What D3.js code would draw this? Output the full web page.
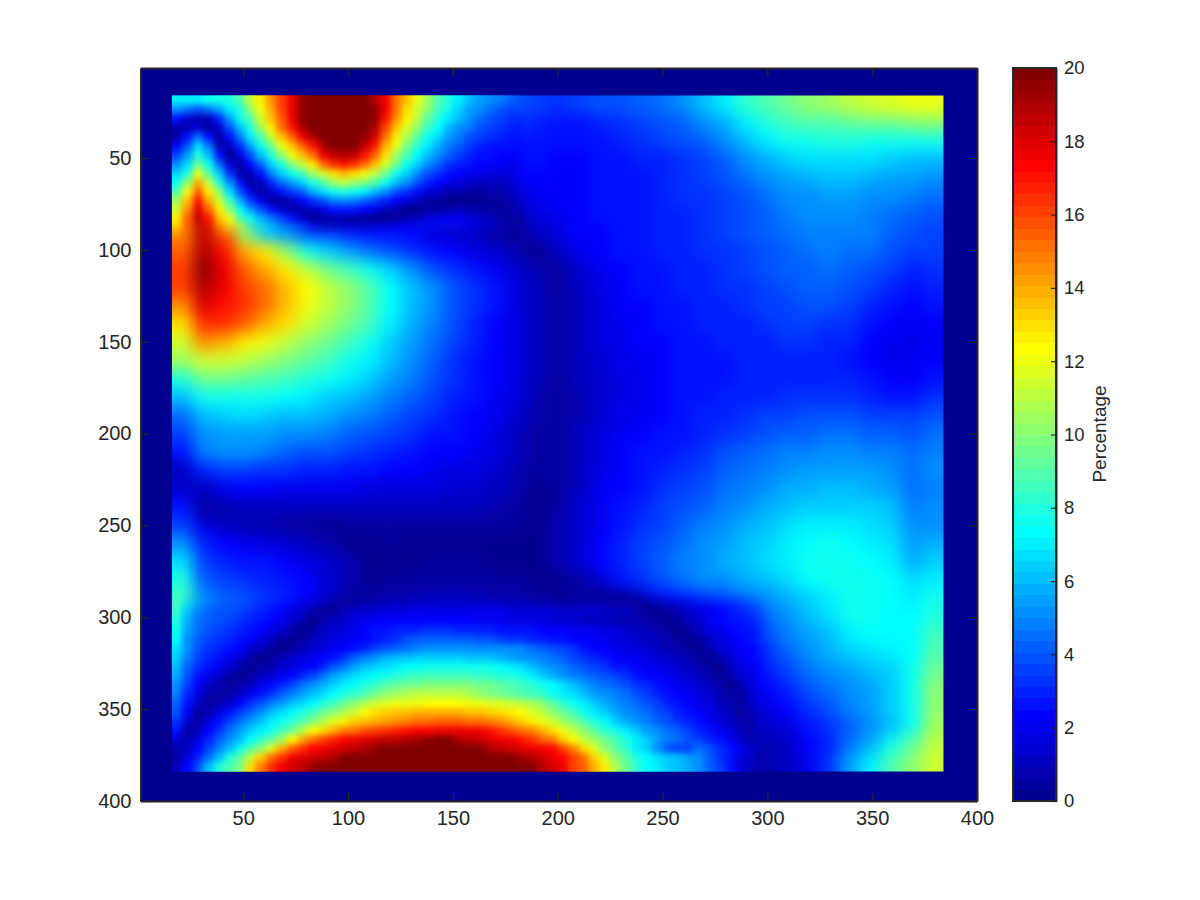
<!DOCTYPE html>
<html>
<head>
<meta charset="utf-8">
<style>
html,body{margin:0;padding:0;background:#fff;}
svg{display:block;}
text{font-family:"Liberation Sans",Arial,sans-serif;fill:#262626;}
</style>
<script src="https://cdn.jsdelivr.net/npm/d3@7"></script>
</head>
<body>
<svg id="chart" width="1200" height="900"></svg>
<script>
const axisDomain = [1, 400];
const imageExtent = [16, 384];
const colorDomain = [0, 20];
const axisTicks = [50, 100, 150, 200, 250, 300, 350, 400];
const colorTicks = [0, 2, 4, 6, 8, 10, 12, 14, 16, 18, 20];
const colorLabel = "Percentage";
const jetIndex = [1, 8, 24, 40, 56, 64];
const jetStops = ["rgb(0,0,143)", "rgb(0,0,255)", "rgb(0,255,255)", "rgb(255,255,0)", "rgb(255,0,0)", "rgb(128,0,0)"];
const percentage = [
[4.5,5.5,7.5,11,14,17,19.5,20,20,20,18,13,10,7.5,6,5,4,3.5,3.2,3.5,3.8,4,4.2,4.5,5,6,7,8.3,9,9.5,10,10.5,11,11.3,11.8,12,12],
[1.5,0.5,4.5,8,11.5,15,18.5,20,20,20,18,13,9.5,6.5,5,4,3.5,3,2.8,2.8,3,3.3,3.6,4,4.3,5,5.8,7,8,8.5,9,9,9.2,9.4,9.6,9.8,10],
[3,4,0.5,4.5,8,11.5,14,17,19,18,14.5,10.5,7.5,5.5,4.5,3.5,3,2.8,2.6,2.6,2.7,2.9,3.2,3.5,3.8,4.2,5,6,7,7.5,7.8,8,8,7.8,7.8,7.8,7.8],
[5,7,1.5,2,5,8,10.5,12,12.5,12,10.5,8,6,4.5,3.7,3,2.7,2.5,2.4,2.4,2.5,2.7,2.9,3.1,3.4,3.7,4.2,5,5.8,6.3,6.6,6.8,6.8,6.6,6.4,6.2,6],
[9,9,4.5,0.7,2.5,5,7,8,8.5,8,7,5.5,4.3,3.5,3,2.5,2.2,2.2,2.3,2.4,2.5,2.6,2.8,3,3.2,3.5,3.9,4.4,5,5.5,5.8,6,6,5.8,5.6,5.4,5],
[11.5,14.5,8,3,0.5,2,3.2,4.3,5,4.8,4.2,3.3,2.7,2.2,2,1.8,1.8,2,2.2,2.3,2.5,2.6,2.8,3,3.2,3.4,3.7,4,4.5,5,5.3,5.5,5.5,5.3,5,4.8,4.5],
[13,16,12,5.5,2.5,0.8,0.6,0.6,0.8,0.8,0.8,0.6,0.5,0.5,0.4,0.3,1,1.8,2.1,2.3,2.5,2.7,2.8,3,3.1,3.3,3.5,3.9,4.3,4.7,5,5.1,5.1,4.9,4.6,4.2,4],
[14.5,18.5,15.5,10,6.5,5,4,3.5,3,2.8,2.6,2.4,1.8,1.3,1,0.6,0.2,1.1,1.8,2.2,2.4,2.6,2.8,2.9,3.1,3.2,3.5,3.8,4.1,4.5,4.8,4.9,4.9,4.7,4.3,3.9,3.7],
[15.5,19,17,14,12.5,10,7.5,6.5,5.5,4.5,3.8,3.2,2.7,2.2,1.8,1.4,0.9,0.3,1.2,1.9,2.2,2.5,2.7,2.9,3,3.2,3.4,3.7,4,4.3,4.6,4.7,4.6,4.4,4,3.6,3.5],
[16,19.5,17.5,15.5,14,12.5,11,9.5,8.7,7.8,6.5,5.2,4,3.2,2.6,2.1,1.5,0.7,0.5,1.5,2,2.4,2.6,2.8,3,3.1,3.3,3.5,3.8,4.1,4.3,4.4,4.3,4,3.5,3,3.2],
[16,19,17.5,16,15,13.5,12.3,11,10,9,7.3,6,5,4,3.2,2.5,1.8,1,0.4,1.2,1.8,2.3,2.5,2.7,2.9,3,3.2,3.4,3.6,3.9,4.1,4.1,3.9,3.5,3,2.7,3],
[14.5,18,17,16.5,15,13.5,12,11,10,9,7.3,6,5,4,3.2,2.5,1.8,1,0.5,1.2,1.7,2.2,2.4,2.6,2.8,3,3.1,3.3,3.5,3.7,3.8,3.8,3.5,3,2.5,2.3,2.5],
[13,16.5,16.5,15.5,14,13,11.5,10.5,9.5,8.5,7,5.8,4.8,3.8,3,2.4,1.8,1,0.5,1.2,1.7,2.1,2.3,2.5,2.7,2.9,3,3.1,3.3,3.5,3.5,3.4,3.2,2.7,2.2,2,2.2],
[11.5,14.5,13.8,12.8,12,11,10.3,9.5,8.7,7.7,6.5,5.4,4.5,3.6,2.9,2.3,1.7,1,0.5,1.1,1.6,2,2.2,2.4,2.6,2.8,2.9,3,3.1,3.2,3.2,3.1,2.9,2.4,2,1.9,2.1],
[10.5,11.5,11.5,11,10.5,9.8,9.2,8.6,7.8,7,6,5,4.2,3.4,2.8,2.2,1.6,1,0.5,1,1.5,1.9,2.1,2.3,2.5,2.7,2.8,2.9,3,3,3,2.9,2.7,2.3,2,1.9,2.3],
[8,9.5,9.5,9.3,9,8.5,8,7.5,7,6.3,5.5,4.7,4,3.2,2.7,2.2,1.6,1,0.4,1,1.5,1.8,2,2.3,2.5,2.6,2.8,2.9,2.9,3,3,3,2.9,2.5,2.2,2.1,2.7],
[6,7.5,7.8,7.8,7.5,7.3,7,6.5,6,5.5,4.9,4.2,3.6,3,2.6,2.1,1.6,0.9,0.4,0.9,1.5,1.8,2,2.3,2.5,2.7,2.9,3,3.1,3.2,3.3,3.4,3.3,3,2.8,2.8,3.4],
[4.5,6,6.5,6.6,6.5,6.2,6,5.7,5.2,4.7,4.2,3.7,3.2,2.8,2.4,2,1.4,0.7,0.4,0.9,1.5,1.9,2.1,2.4,2.6,2.9,3.1,3.3,3.5,3.6,3.8,3.9,3.9,3.7,3.6,3.5,4],
[3.5,5,5.5,5.6,5.5,5.3,5,4.7,4.3,4,3.6,3.2,2.8,2.5,2.2,1.8,1.2,0.6,0.4,1,1.6,2,2.3,2.6,2.8,3.1,3.4,3.7,3.9,4.2,4.3,4.4,4.4,4.3,4.2,4,4.5],
[2.5,4.8,5,5,4.7,4.3,4,3.8,3.5,3.2,3,2.7,2.4,2.2,1.9,1.6,1,0.5,0.4,1,1.7,2.2,2.5,2.8,3.1,3.4,3.8,4.1,4.4,4.7,4.9,5,5,4.9,4.8,4.4,4.8],
[1,3,3.5,3.5,3.3,3.2,3,2.9,2.7,2.5,2.4,2.2,2,1.8,1.6,1.3,0.9,0.4,0.4,1.1,1.8,2.3,2.7,3,3.3,3.7,4.1,4.5,4.9,5.2,5.4,5.6,5.6,5.4,5.2,4.6,5],
[1.5,1,2,2.3,2.2,2.1,2,2,1.9,1.8,1.8,1.7,1.6,1.5,1.3,1.1,0.7,0.3,0.5,1.2,1.9,2.4,2.8,3.2,3.6,4,4.4,4.9,5.3,5.7,5.9,6,6,5.9,5.6,4.6,4.9],
[2.5,0.4,0.8,1,1.1,1.1,1.2,1.2,1.2,1.1,1.1,1.1,1.1,1.1,1,0.8,0.5,0.2,0.6,1.3,2,2.5,3,3.5,3.9,4.3,4.8,5.3,5.7,6.1,6.4,6.5,6.5,6.4,6,4.8,5],
[3.5,1.7,1.2,0.9,0.7,0.5,0.4,0.3,0.4,0.5,0.5,0.6,0.6,0.6,0.6,0.5,0.4,0.2,0.7,1.4,2,2.7,3.2,3.7,4.2,4.7,5.2,5.7,6.2,6.6,6.9,7,7,6.8,6.3,5,5.3],
[5,3,2.3,2,1.8,1.3,1,0.7,0.3,0.3,0.4,0.3,0.3,0.3,0.3,0.3,0.2,0.2,0.8,1.5,2.2,2.9,3.5,4,4.5,5,5.5,6,6.5,6.9,7.3,7.5,7.4,7.1,6.6,5.4,5.8],
[6.8,3.7,3,2.7,2.5,2.2,1.8,1.3,0.8,0.2,0.3,0.3,0.4,0.4,0.4,0.3,0.3,0.3,0.7,1.4,2.2,3,3.6,4.2,4.7,5.2,5.7,6.2,6.7,7.1,7.5,7.7,7.7,7.4,6.9,5.9,6.3],
[8,4.3,3.5,3.2,3,2.7,2.3,1.5,0.8,0.3,0.4,0.5,0.6,0.6,0.6,0.5,0.4,0.3,0.3,0.5,1.3,2.5,3.3,4,4.5,5,5.3,5.8,6.2,6.8,7.3,7.6,7.8,7.6,7.2,6.6,7],
[8.5,5,4.2,3.8,3.4,3,2.3,1.3,0.5,0.4,0.7,0.9,1,1.1,1,0.9,0.7,0.6,0.4,0.4,0.3,0.2,1.2,2.5,3,3.5,4,4.4,5,5.8,6.4,7,7.8,7.6,7.3,7,7.6],
[8,5,4,3.5,2.8,2.1,0.8,0.3,0.6,1,1.3,1.5,1.7,1.8,1.8,1.7,1.5,1.3,1.1,1.1,1,0.9,0.6,0.2,1.3,2.4,3.2,3.7,4.4,5.2,6,6.7,7.6,7.5,7.3,7.2,8],
[7.5,4.8,3.9,3.1,2.2,1,0.3,0.7,1.2,1.8,2.3,2.7,3,3.2,3.2,3,2.8,2.4,2.1,2.1,2,1.9,1.6,1.1,0.4,0.8,2.4,3.1,3.9,4.7,5.5,6.2,7.1,7.2,7.2,7.4,8.5],
[7,4.5,3.4,2.5,1.1,0.3,1,1.8,2.6,3.3,3.9,4.4,4.8,5,5,4.7,4.4,3.9,3.4,3.2,3,2.7,2.5,2.1,1.4,0.5,1.8,2.7,3.3,4.2,5,5.7,6.4,6.7,6.9,7.4,9],
[6.3,4,2.8,1,0.3,1,2.2,3.3,4.3,5.3,6.1,6.7,7.2,7.6,7.7,7.4,7,6.4,5.8,4.9,4.4,4,3.6,3.1,2.4,1.3,1,2.2,2.9,3.6,4.4,5.2,5.6,6,6.5,7.5,9.5],
[5,2.7,1,0.3,1.3,2.6,4,5.5,6.8,7.8,8.8,9.5,10.2,10.4,10.5,10.2,9.7,8.8,8.2,7.5,6.5,5.6,5,4.3,3.3,2.3,0.6,1.6,2.4,3,3.8,4.6,5,5.6,6.5,7.8,10],
[3.3,1,0.4,1.8,3.5,5,6.6,8,9.5,10.8,12,12.6,13,13.3,13.3,13,12.5,11.5,10.5,9.3,8,6.8,5.8,5,4.2,3,0.6,1,1.8,2.4,3.2,4,4.7,5.5,6.3,7.8,10],
[0.8,3,5,6.8,8.5,10.8,12.5,14,15,16,17,17.5,17.8,18,18,17.8,17.3,16.5,14,11.5,9.5,7.8,6.3,5.5,4.7,3.8,1.2,0.7,1.3,1.7,2.6,3.4,4.3,5.2,6,7.5,10.5],
[0.4,3.5,6.7,9.5,12.5,15.5,17.5,19,19.5,20,20,20,20,20,20,20,20,19.3,17.5,13.5,11,8.8,6.8,5.2,4.8,4.5,2,1,0.9,1.2,2.2,3.1,4.5,5.8,7.5,9.3,11],
[2.5,5.5,8.5,12.5,15,17.5,19,20,20,20,20,20,20,20,20,20,20,20,19,15.5,13,10,8,6.8,5.8,5,3,1.5,0.8,1,2,3.4,5.5,7,8.8,10.3,11.5]
];
// finer readings (half cell size) of the two areas with the sharpest features
const cornerSpan = {cols: 17.5, rows: 8};
const percentageTop = [
[7,7,7,7.5,7.5,8,9,11,12.5,14.5,16,17.5,19.5,20,20,20,20,20,20,19,17.5,15,13.5,12,10.5,9,8,7,6.2,5.5,5,4.7,4.3,4,3.8],
[5,4.5,3.8,4.5,5.5,7,8,10,12,14,16,17.5,19.5,20,20,20,20,20,20,19.5,17.5,15,13,11.5,10,8.5,7.5,6.5,5.5,5,4.5,4,3.7,3.5,3.3],
[2.5,1.5,0.8,1.2,3,5.5,7.5,9,11.5,13.5,15.5,17.5,19.5,20,20,20,20,20,20,19.5,17,14.5,12.7,11,9.3,8,7,6,5,4.5,4,3.6,3.3,3,2.9],
[0.8,0.7,1.5,0.4,1.5,4,6,8,10.5,12.5,15,17,19,20,20,20,20,20,20,19,16,13.5,11.7,10,8.5,7.3,6.2,5.3,4.7,4,3.5,3.2,3,2.8,2.7],
[0.5,2.5,4.5,2.5,0.5,2.5,4.8,7,9,11.5,13.5,15.5,17.5,19,20,20,20,20,19.5,18.3,15,12.7,10.7,9.2,7.8,6.6,5.5,4.7,4,3.5,3.2,2.9,2.7,2.6,2.5],
[2,4,6.8,4.5,0.7,1.2,3.2,5.5,7.5,9.5,12,13.5,15.5,17,19,20,20,20,18.5,17,14,12,9.8,8.3,7,5.8,4.8,4.2,3.5,3,2.8,2.6,2.5,2.4,2.4],
[3.5,5.5,8,6,2.5,0.5,1.8,4,6,8,10,12,13.5,15,17.5,18.5,19,18.5,17,15.5,13,10.5,8.8,7.4,6.2,5,4.2,3.6,3.1,2.8,2.5,2.3,2.2,2.2,2.2],
[5,6.7,9.5,7.5,4.5,1.5,0.4,2.3,4.3,6.3,8,9.7,11.2,12.5,15,16.5,17,16.5,15,13.5,11.3,9.5,7.8,6.3,5.2,4.2,3.4,3,2.6,2.3,2.2,2.1,2,2,2.1],
[6.5,8,12,9,6.5,3.3,0.7,0.8,2.7,4.7,6.3,7.7,8.7,10.5,11.5,13,13.5,13,12,11,9.5,7.8,6.3,5,4,3.2,2.7,2.3,2,1.9,1.7,1.6,1.8,1.9,2],
[7.5,10,14,11,8,5,2.5,0.5,1.2,3,4.5,5.5,6.3,8,9,10.5,11,10.5,9.7,9,7.5,6.2,5,3.8,3,2.4,2,1.6,1.3,1.2,1.2,1.2,1.4,1.7,1.9],
[9,12,15.5,12.5,10,6.7,4,2,0.5,1.3,2.7,3.7,4.3,5.8,6.6,7.7,8,7.6,7,6.2,5,4,3.2,2.5,1.8,1.3,0.9,0.7,0.6,0.6,0.7,0.8,1.1,1.4,1.8],
[10.5,13.5,17,14,11.5,8.5,5.7,3.7,2,0.5,0.5,1,2.3,3.4,4,4.7,5,4.7,4.2,3.7,3,2.3,1.6,1,0.6,0.4,0.2,0.3,0.2,0.3,0.4,0.6,0.8,1.2,1.5],
[11.5,14.5,18,15.5,12.5,10,7.5,5.5,4,2.6,1.5,0.7,0.7,1.2,1.8,2.6,2.7,2.5,2.2,1.8,1.2,0.7,0.3,0.2,0.4,0.6,0.9,1,0.9,0.8,0.5,0.4,0.5,0.9,1.2],
[12.5,15.5,18.5,17,13.5,12,9,7.5,6,4.8,3.5,2.8,1.5,0.6,0.5,0.8,0.7,0.6,0.4,0.3,0.3,0.5,0.9,1.2,1.6,1.9,2,2,1.8,1.5,1,0.6,0.4,0.6,1],
[13,16,19,18,14.8,13,11.5,9.2,8,6.7,5.5,4.5,3.7,2,1,0.9,1,1.1,1.2,1.4,1.6,1.9,2.2,2.5,2.6,2.7,2.7,2.5,2.3,2,1.6,1.1,0.6,0.4,0.7],
[14,17,19.5,18.5,16,14,12.5,11,9.5,8.2,7,6,5,3.4,3,2.8,2.8,2.8,2.9,3,3.1,3.2,3.2,3.2,3.1,3,2.8,2.6,2.4,2.2,2,1.5,1,0.4,0.4]
];
const bottomSpan = {cols: 29, rows: 10};
const percentageBottom = [
[8.8,6.5,5,4.6,4.3,4.2,4,3.8,3.5,3.2,2.8,2.5,2.2,1.8,1.3,0.8,0.4,0.2,0.5,0.7,0.9,1,1,1,1,1,1,1,0.9,0.9,0.8,0.8,0.7,0.7,0.6,0.6,0.5,0.5,0.4,0.5,0.6,0.7,0.7,0.5,0.3,0.4,0.7,1,1.4,1.6,1.9,2.1,2.5,3,3.4,3.8,4.2,4.7],
[8.5,6.3,5,4.5,4.2,4,3.8,3.6,3.3,3,2.6,2.2,1.8,1.4,0.8,0.3,0.4,0.8,1,1.1,1.2,1.3,1.3,1.3,1.3,1.3,1.3,1.3,1.3,1.3,1.3,1.3,1.2,1.1,1,1,0.9,0.9,0.9,1,1,1,0.9,0.7,0.5,0.3,0.4,0.8,1.1,1.5,1.8,2.1,2.4,2.8,3.1,3.5,3.9,4.3],
[8.2,6,4.8,4.3,4,3.8,3.6,3.4,3,2.7,2.3,1.8,1.3,0.7,0.3,0.6,1,1.3,1.4,1.6,1.7,1.8,1.8,1.9,1.9,1.9,1.9,1.9,1.9,1.9,1.9,1.9,1.8,1.8,1.7,1.7,1.6,1.5,1.5,1.4,1.4,1.3,1.2,1,0.9,0.6,0.3,0.5,0.9,1.3,1.7,2,2.3,2.6,2.9,3.2,3.6,4],
[7.9,5.8,4.6,4.2,3.8,3.6,3.4,3.1,2.7,2.3,1.9,1.3,0.7,0.3,0.7,1.2,1.4,1.7,2,2.1,2.2,2.3,2.4,2.4,2.4,2.4,2.4,2.3,2.2,2.1,2,1.9,1.8,1.7,1.7,1.6,1.5,1.4,1.3,1.2,1.1,1,0.9,0.8,0.7,0.6,0.5,0.3,0.6,1,1.5,1.9,2.2,2.5,2.7,3,3.3,3.7],
[7.6,5.5,4.4,4,3.6,3.3,3,2.7,2.4,1.9,1.3,0.7,0.3,0.5,1,1.4,1.7,2,2.2,2.5,2.7,2.9,3,3.1,3.2,3.2,3.2,3.1,3,3,2.9,2.8,2.7,2.6,2.5,2.4,2.3,2.2,2.1,2,1.9,1.8,1.6,1.4,1.2,1,0.8,0.6,0.3,0.5,1.1,1.6,2,2.3,2.5,2.8,3.1,3.4],
[7.2,5.3,4.2,3.7,3.4,3,2.6,2.2,1.7,1.1,0.6,0.3,0.6,1.1,1.5,1.8,2.1,2.3,2.4,2.6,3,3.4,3.8,4.1,4.2,4.3,4.3,4.2,4.1,4,3.8,3.6,3.4,3.3,3.1,3,2.8,2.6,2.4,2.3,2.2,2,1.8,1.6,1.4,1.2,1,0.7,0.5,0.3,0.6,1.2,1.7,2.1,2.3,2.6,2.9,3.2],
[6.8,5,3.9,3.4,3,2.6,2.2,1.5,1,0.5,0.3,0.5,0.9,1.3,1.7,2,2.3,2.6,3,3.5,3.9,4.3,4.6,4.9,5.1,5.3,5.3,5.3,5.2,5.2,5.2,5.1,5.1,5,4.6,4.3,4,3.6,3.2,2.7,2.4,2.2,2,1.8,1.6,1.4,1.2,0.9,0.7,0.5,0.3,0.8,1.3,1.8,2.2,2.4,2.7,3],
[6.5,4.7,3.6,3,2.6,2,1.3,0.8,0.3,0.4,0.8,1.3,1.7,2,2.3,2.5,3.4,4.2,4.8,5.3,5.7,6,6.2,6.3,6.4,6.4,6.4,6.3,6.2,6.1,6,5.9,5.6,5.3,5,4.7,4.4,4.1,3.7,3.4,3,2.6,2.3,2.1,1.9,1.7,1.5,1.3,1,0.8,0.5,0.3,0.9,1.5,2,2.3,2.6,2.9],
[6.1,4.3,3.2,2.6,2,1.3,0.7,0.3,0.5,0.9,1.3,1.7,2.1,2.4,3.1,3.8,4.6,5.4,6,6.4,6.7,7,7.2,7.3,7.5,7.6,7.6,7.6,7.6,7.6,7.6,7.4,7.1,6.7,6.2,5.6,5,4.7,4.3,3.9,3.5,3.2,2.8,2.5,2.3,2.1,1.9,1.7,1.5,1.2,0.9,0.5,0.3,1.1,1.7,2.1,2.4,2.7],
[5.7,4,2.8,2.1,1.3,0.7,0.3,0.6,1,1.5,1.9,2.3,3,3.7,4.5,5.4,6,6.6,7,7.4,7.8,8.1,8.3,8.5,8.7,8.7,8.7,8.6,8.5,8.4,8.3,8.1,7.9,7.6,7,6.5,5.9,5.2,4.8,4.5,4.2,3.9,3.6,3.2,2.8,2.4,2.2,1.9,1.6,1.3,1,0.7,0.3,0.7,1.3,1.8,2.2,2.6],
[5.2,3.5,2.3,1.5,0.7,0.3,0.7,1.2,1.8,2.3,3,3.7,4.4,5.1,5.8,6.4,7,7.4,7.9,8.4,8.8,9.2,9.4,9.6,9.8,9.9,9.9,9.8,9.7,9.6,9.4,9.3,9,8.7,8.3,7.8,7.3,6.7,6.1,5.5,4.8,4.4,4.1,3.8,3.4,3,2.6,2.3,2,1.7,1.4,1.1,0.8,0.3,0.9,1.6,2.1,2.5],
[4.8,3,1.8,0.9,0.4,0.7,1.2,2,2.6,3.3,4.1,4.9,5.6,6.2,6.8,7.4,8,8.4,9,9.5,10,10.4,10.7,11,11.1,11.2,11.2,11,10.7,10.2,9.8,9.6,9.3,9,8.7,8.3,7.8,7.1,6.6,6,5.5,5.2,4.8,4.4,4,3.7,3.1,2.7,2.2,1.9,1.6,1.3,0.9,0.5,0.6,1.3,1.9,2.4],
[4.3,2.5,1.2,0.5,0.7,1.4,2.3,3.2,4,4.7,5.4,6.2,6.8,7.4,8,8.7,9.5,10.2,10.8,11.3,11.6,11.9,12,12.1,12.2,12.3,12.3,12.2,12.1,12,11.8,11.6,11.3,11,10.7,10,9.2,8.3,7.7,7,6.4,5.8,5.2,4.8,4.4,4,3.5,3,2.7,2.2,1.9,1.6,1.2,0.7,0.4,1,1.7,2.2],
[3.8,2,0.4,0.7,1.7,2.7,3.5,4.3,5.2,6,6.7,7.4,8,8.7,9.4,10.1,10.7,11.4,12.2,12.9,13.2,13.5,13.7,13.9,14,14,14,13.8,13.7,13.5,13.3,13,12.6,12.2,11.6,11,10.3,9.4,8.6,7.8,7.1,6.5,5.9,5.1,4.7,4.4,4,3.5,3.1,2.6,2.2,1.9,1.5,1,0.5,0.7,1.5,2],
[3.2,1.4,0.5,1.7,2.7,3.6,4.5,5.4,6.2,7,7.7,8.4,9,9.8,10.8,11.8,12.7,13.2,13.6,14,14.3,14.6,14.8,15,15.3,15.5,15.5,15.4,15.3,15.1,14.9,14.4,13.8,13.2,12.7,12.1,11.3,10.6,9.8,9,8,7.2,6.5,5.9,5.2,4.8,4.3,3.9,3.4,2.9,2.5,2.1,1.7,1.2,0.7,0.5,1.3,1.8],
[2.5,0.6,1.2,2.3,3.3,4.4,5.4,6.3,7,7.7,8.5,9.5,10.8,12.2,13.1,14,14.9,15.3,15.7,16,16.3,16.7,17,17.2,17.4,17.6,17.6,17.6,17.6,17.5,17,16.4,15.8,15.3,14.7,13.9,13.1,12.1,11.2,10.1,9.3,8.4,7.6,6.9,6.3,5.6,5,4.6,4.1,3.6,3.1,2.6,2.1,1.6,1.1,0.7,1,1.5],
[1.5,0.7,1.8,3,4.1,5.2,6.2,7.2,8.2,9.2,10.5,12.2,13.9,15.3,16,16.6,17.2,17.7,18,18.2,18.5,18.7,19,19.3,19.5,19.7,19.7,19,18.6,18.4,18.1,17.8,17.5,16.9,16.3,15.6,14.7,13.2,12.3,11.1,10.6,9.6,8.8,7.9,7,6.4,5.6,4.9,4.5,4,3.5,3,2.5,2,1.5,0.9,0.8,1.4],
[0.9,1,2.4,3.7,4.8,6.2,7.6,8.8,10,11.6,14,15.5,16.4,17.3,17.8,18.1,18.3,18.6,19,19.6,20,20,20,20,20,20,20,20,20,19.7,19,18.6,18.4,18,17.8,17.6,17.2,16,14.7,12.9,11.6,10.2,9.2,8.2,7.1,6.5,5.2,3.8,3.6,3.7,4.4,4,3.3,2.6,1.9,1.3,0.8,0.7],
[0.4,1.6,3,4.6,6.2,7.9,9.3,11.2,13.3,15.1,16.5,17.7,18,18.2,18.5,19,20,20,20,20,20,20,20,20,20,20,20,20,20,20,20,20,19.8,19.2,18.8,18.3,17.8,17.3,16,15.3,13.2,11.7,10.1,9.2,7.9,7.2,6.8,6.5,6.1,5.6,5.1,4.2,3.4,2.6,1.8,1,0.6,1],
[1.1,2.3,4,6.2,7.9,8.9,9.9,13,14.8,16.3,17.6,18.2,18.7,19.4,20,20,20,20,20,20,20,20,20,20,20,20,20,20,20,20,20,20,20,20,20,19,18.3,17.7,16.2,15.4,13.9,12.6,10.8,9.5,8.3,7.4,6.9,6.5,6.2,5.7,5.1,4.3,3.5,2.6,1.8,1.1,0.5,0.8]
];

const svg = d3.select("#chart");
const x = d3.scaleLinear().domain(axisDomain).range([140.5, 977]);
const y = d3.scaleLinear().domain(axisDomain).range([68, 801]);

// jet colormap, 64 levels
const jetAt = d3.scaleLinear().domain(jetIndex).range(jetStops).interpolate(d3.interpolateRgb);
const jet = d3.range(1, 65).map(i => d3.rgb(jetAt(i)).formatHex());
const color = d3.scaleQuantize().domain(colorDomain).range(jet);

const defs = svg.append("defs");
const imgX0 = x(imageExtent[0]), imgX1 = x(imageExtent[1]);
const imgY0 = y(imageExtent[0]), imgY1 = y(imageExtent[1]);
defs.append("clipPath").attr("id", "imgClip").append("rect")
  .attr("x", imgX0).attr("y", imgY0).attr("width", imgX1 - imgX0).attr("height", imgY1 - imgY0);
function blurFilter(id, sd) {
  defs.append("filter").attr("id", id)
    .attr("filterUnits", "userSpaceOnUse")
    .attr("x", 60).attr("y", 0).attr("width", 1000).attr("height", 900)
    .attr("color-interpolation-filters", "sRGB")
    .append("feGaussianBlur").attr("stdDeviation", sd);
}
blurFilter("smooth", 7.5);
blurFilter("smoothFine", 3.2);
blurFilter("fade", 7);

// axes background (value 0 pad around the image)
svg.append("rect")
  .attr("x", x(axisDomain[0])).attr("y", y(axisDomain[0]))
  .attr("width", x(axisDomain[1]) - x(axisDomain[0]))
  .attr("height", y(axisDomain[1]) - y(axisDomain[0]))
  .attr("fill", color(0));

// heat cells
const pad = 40, fadeInset = 14;
const imageClip = svg.append("g").attr("clip-path", "url(#imgClip)");
function drawCells(table, filterId, xSpan, ySpan, maskId) {
  const nRows = table.length, nCols = table[0].length;
  const colPos = d3.scaleLinear().domain([0, nCols]).range(xSpan);
  const rowPos = d3.scaleLinear().domain([0, nRows]).range(ySpan);
  const cells = [];
  table.forEach((row, r) => row.forEach((v, c) => cells.push({r, c, v})));
  const atLeft = xSpan[0] === imageExtent[0], atRight = xSpan[1] === imageExtent[1];
  const atTop = ySpan[0] === imageExtent[0], atBottom = ySpan[1] === imageExtent[1];
  const padLeft = d => (d.c === 0 && atLeft) ? pad : 0;
  const padTop = d => (d.r === 0 && atTop) ? pad : 0;
  const padRight = d => (d.c === nCols - 1 && atRight) ? pad : 0;
  const padBottom = d => (d.r === nRows - 1 && atBottom) ? pad : 0;
  let holder = imageClip.append("g");
  if (maskId) {
    const rx0 = x(xSpan[0]) + (atLeft ? -pad : fadeInset), rx1 = x(xSpan[1]) + (atRight ? pad : -fadeInset);
    const ry0 = y(ySpan[0]) + (atTop ? -pad : fadeInset), ry1 = y(ySpan[1]) + (atBottom ? pad : -fadeInset);
    defs.append("mask").attr("id", maskId).attr("maskUnits", "userSpaceOnUse")
      .attr("x", 60).attr("y", 0).attr("width", 1000).attr("height", 900)
      .append("rect").attr("x", rx0).attr("y", ry0).attr("width", rx1 - rx0).attr("height", ry1 - ry0)
      .attr("fill", "#fff").attr("filter", "url(#fade)");
    holder.attr("mask", `url(#${maskId})`);
  }
  holder.append("g").attr("filter", `url(#${filterId})`)
    .selectAll("rect").data(cells).join("rect")
    .attr("x", d => x(colPos(d.c)) - padLeft(d))
    .attr("y", d => y(rowPos(d.r)) - padTop(d))
    .attr("width", d => x(colPos(d.c + 1)) - x(colPos(d.c)) + 0.6 + padLeft(d) + padRight(d))
    .attr("height", d => y(rowPos(d.r + 1)) - y(rowPos(d.r)) + 0.6 + padTop(d) + padBottom(d))
    .attr("shape-rendering", "crispEdges")
    .attr("fill", d => color(d.v));
}
drawCells(percentage, "smooth", imageExtent, imageExtent);
const stepX = (imageExtent[1] - imageExtent[0]) / percentage[0].length;
const stepY = (imageExtent[1] - imageExtent[0]) / percentage.length;
drawCells(percentageTop, "smoothFine",
  [imageExtent[0], imageExtent[0] + cornerSpan.cols * stepX],
  [imageExtent[0], imageExtent[0] + cornerSpan.rows * stepY], "maskTop");
drawCells(percentageBottom, "smoothFine",
  [imageExtent[0], imageExtent[0] + bottomSpan.cols * stepX],
  [imageExtent[1] - bottomSpan.rows * stepY, imageExtent[1]], "maskBottom");

// axes frame and ticks
const ink = "#262626";
function styleAxis(g, size) {
  g.selectAll(".domain").attr("stroke", ink).attr("stroke-width", 2);
  g.selectAll(".tick line").attr("stroke", ink).attr("stroke-width", 1.2);
  g.selectAll("text").attr("font-size", size).attr("fill", ink)
    .style("font-family", '"Liberation Sans",Arial,sans-serif');
}
const bottom = svg.append("g").attr("transform", `translate(0,${y(400)})`)
  .call(d3.axisBottom(x).tickValues(axisTicks).tickSizeInner(-8).tickSizeOuter(0).tickPadding(10));
styleAxis(bottom, 20);
const left = svg.append("g").attr("transform", `translate(${x(1)},0)`)
  .call(d3.axisLeft(y).tickValues(axisTicks).tickSizeInner(-8).tickSizeOuter(0).tickPadding(9));
styleAxis(left, 20);
const top_ = svg.append("g").attr("transform", `translate(0,${y(1)})`)
  .call(d3.axisTop(x).tickValues(axisTicks).tickSizeInner(-8).tickSizeOuter(0).tickFormat(""));
styleAxis(top_, 20);
const right_ = svg.append("g").attr("transform", `translate(${x(400)},0)`)
  .call(d3.axisRight(y).tickValues(axisTicks).tickSizeInner(-8).tickSizeOuter(0).tickFormat(""));
styleAxis(right_, 20);

// colorbar
const cbX0 = 1013, cbX1 = 1056;
const cbY = d3.scaleLinear().domain(colorDomain).range([801, 68]);
const cbStep = d3.scaleLinear().domain([0, jet.length]).range(colorDomain);
svg.append("g").selectAll("rect").data(jet).join("rect")
  .attr("x", cbX0).attr("width", cbX1 - cbX0)
  .attr("y", (d, i) => cbY(cbStep(i + 1)))
  .attr("height", (d, i) => cbY(cbStep(i)) - cbY(cbStep(i + 1)) + 0.5)
  .attr("shape-rendering", "crispEdges")
  .attr("fill", d => d);
const cbAxis = svg.append("g").attr("transform", `translate(${cbX1},0)`)
  .call(d3.axisRight(cbY).tickValues(colorTicks).tickSizeInner(-5).tickSizeOuter(0).tickPadding(8));
styleAxis(cbAxis, 18.5);
svg.append("rect").attr("x", cbX0).attr("y", 68).attr("width", cbX1 - cbX0).attr("height", 733)
  .attr("fill", "none").attr("stroke", ink).attr("stroke-width", 2);
svg.append("text").attr("transform", "translate(1106,434) rotate(-90)")
  .attr("text-anchor", "middle").attr("font-size", 19).text(colorLabel);
</script>
</body>
</html>
